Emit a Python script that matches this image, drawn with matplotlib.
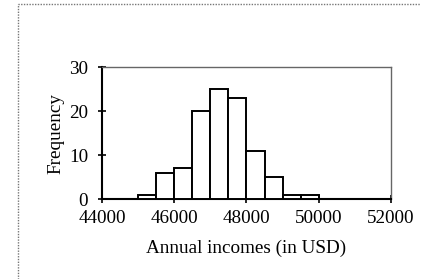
import matplotlib
matplotlib.use("Agg")
import matplotlib.pyplot as plt
import matplotlib.patches as mpatches

# histogram bins (left edges) and counts
bin_edges = [45000, 45500, 46000, 46500, 47000, 47500, 48000, 48500, 49000, 49500, 50000]
counts = [1, 6, 7, 20, 25, 23, 11, 5, 1, 1]
x_ticks = [44000, 46000, 48000, 50000, 52000]
y_ticks = [0, 10, 20, 30]

plt.rcParams["font.family"] = ["Liberation Serif", "DejaVu Serif"]

fig = plt.figure(figsize=(4.21, 2.79), dpi=100)
ax = fig.add_axes([102 / 421, 1 - 199 / 279, 289 / 421, 132 / 279])

# outer frame
frame = mpatches.Rectangle((18 / 421, -0.02), 1.1, 1 - 4 / 279 + 0.02,
                           transform=fig.transFigure, fill=False,
                           edgecolor="#777777", linewidth=1, linestyle=(0, (1, 1)))
fig.patches.append(frame)

ax.hist(bin_edges[:-1], bins=bin_edges, weights=counts,
        color="white", edgecolor="black", linewidth=1.4, zorder=3)

ax.set_xlim(44000, 52000)
ax.set_ylim(0, 30)
ax.set_xticks(x_ticks)
ax.set_yticks(y_ticks)
ax.tick_params(direction="inout", length=6, width=1.2, labelsize=13.8)
ax.tick_params(axis="x", pad=5)
ax.tick_params(axis="y", pad=7)

ax.spines["left"].set_linewidth(1.5)
ax.spines["bottom"].set_linewidth(1.5)
ax.spines["bottom"].set_linestyle((0, (2, 1)))
for side in ["top", "right"]:
    ax.spines[side].set_color("#666666")
    ax.spines[side].set_linewidth(1)
    ax.spines[side].set_linestyle((0, (1, 1)))

ax.set_xlabel("Annual incomes (in USD)", fontsize=13.8, labelpad=9)
ax.set_ylabel("Frequency", fontsize=13.8, labelpad=3)

plt.savefig("out.png", dpi=100)
plt.close()
